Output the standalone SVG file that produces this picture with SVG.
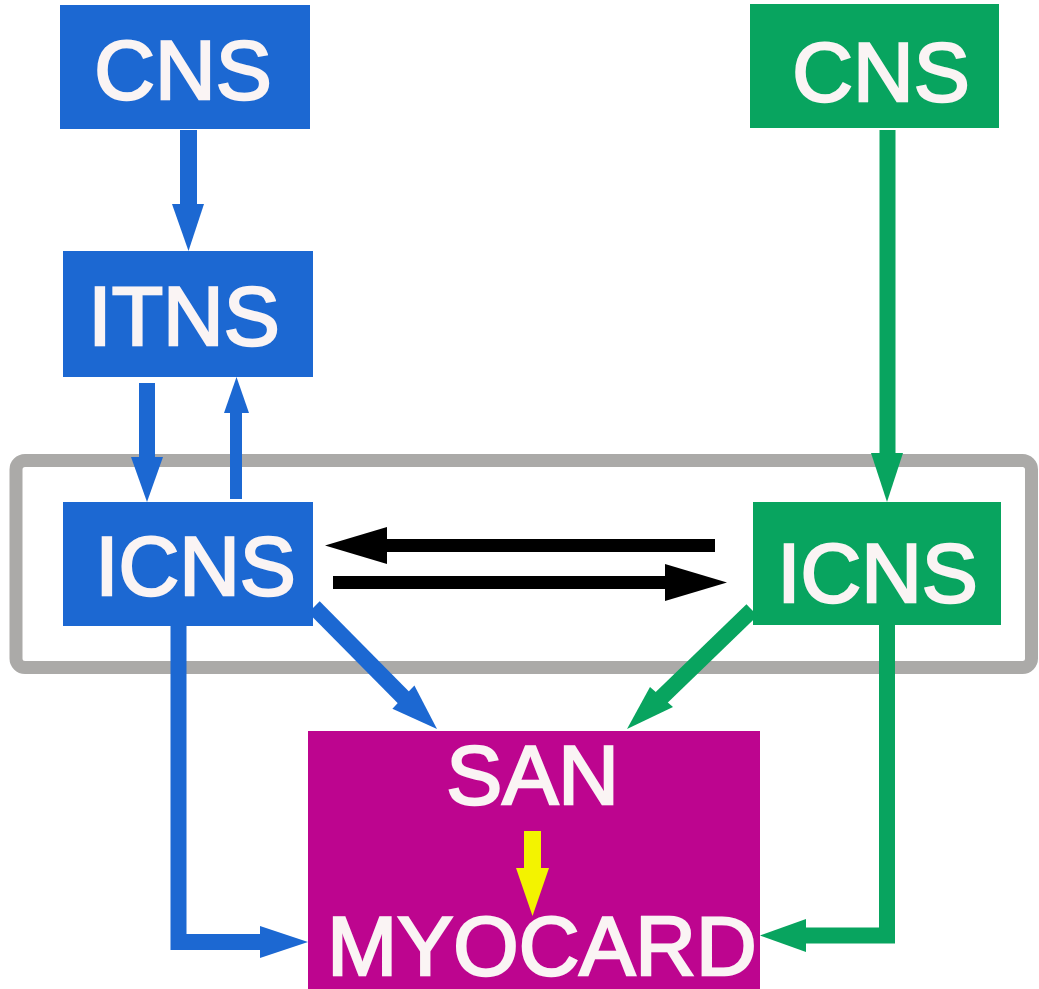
<svg xmlns="http://www.w3.org/2000/svg" width="1039" height="989" viewBox="0 0 1039 989">
  <style>
    .blue { fill: #1c68d2; }
    .green { fill: #08a45f; }
    .label { font-family: "Liberation Sans", Arial, sans-serif; font-size: 84px; fill: #faf4f4; stroke: #faf4f4; stroke-width: 2.5px; text-anchor: middle; }
    .sb { stroke: #1c68d2; fill: none; }
    .sg { stroke: #08a45f; fill: none; }
    .sk { stroke: #000000; fill: none; }
  </style>
  <rect width="1039" height="989" fill="#ffffff"/>

  <!-- intracardiac frame -->
  <rect id="frame" x="16" y="460.5" width="1015.5" height="207" rx="9" ry="9" fill="none" stroke="#abaaa8" stroke-width="13"/>

  <!-- nodes -->
  <g id="cns-left">
    <rect class="blue" x="60" y="5" width="250" height="124"/>
    <text class="label" x="183" y="99">CNS</text>
  </g>
  <g id="itns">
    <rect class="blue" x="63" y="251" width="250" height="126"/>
    <text class="label" x="184" y="345">ITNS</text>
  </g>
  <g id="icns-left">
    <rect class="blue" x="63" y="502" width="250" height="124"/>
    <text class="label" x="195.5" y="595">ICNS</text>
  </g>
  <g id="cns-right">
    <rect class="green" x="750" y="4" width="249" height="124"/>
    <text class="label" x="881" y="101">CNS</text>
  </g>
  <g id="icns-right">
    <rect class="green" x="753" y="502" width="248" height="123"/>
    <text class="label" x="877.5" y="602">ICNS</text>
  </g>
  <g id="san-myocard">
    <rect x="308" y="731" width="452" height="260" fill="#bd058f"/>
    <text class="label" x="532.5" y="804">SAN</text>
    <text class="label" x="542" y="975">MYOCARD</text>
  </g>

  <!-- connectors -->
  <g id="connectors">
    <!-- CNS -> ITNS -->
    <line class="sb" x1="188.5" y1="130" x2="188.5" y2="205" stroke-width="17"/>
    <polygon class="blue" points="172,204 204,204 188.5,251"/>
    <!-- ITNS -> ICNS -->
    <line class="sb" x1="147" y1="383" x2="147" y2="458" stroke-width="16"/>
    <polygon class="blue" points="131,457 163,457 147,502"/>
    <!-- ICNS -> ITNS -->
    <line class="sb" x1="236" y1="499" x2="236" y2="412" stroke-width="12"/>
    <polygon class="blue" points="224,413 249,413 236.5,377"/>
    <!-- green CNS -> ICNS -->
    <line class="sg" x1="887.5" y1="130" x2="887.5" y2="454" stroke-width="16"/>
    <polygon class="green" points="871,453 903,453 887,502"/>
    <!-- ICNS <-> ICNS -->
    <line class="sk" x1="715" y1="545.5" x2="386" y2="545.5" stroke-width="13"/>
    <polygon fill="#000" points="387,527 387,564 325,545.5"/>
    <line class="sk" x1="333" y1="582.5" x2="666" y2="582.5" stroke-width="13"/>
    <polygon fill="#000" points="665,564 665,601 727,582.5"/>
    <!-- blue ICNS -> SAN -->
    <line class="sb" x1="314" y1="607" x2="404" y2="698" stroke-width="16"/>
    <polygon class="blue" points="414.4,685.5 392.4,708.7 437,729"/>
    <!-- green ICNS -> SAN -->
    <line class="sg" x1="752" y1="610" x2="661" y2="698" stroke-width="16"/>
    <polygon class="green" points="650,687 673,707 627,729"/>
    <!-- blue ICNS -> MYOCARD -->
    <polyline class="sb" points="178.5,626 178.5,942 261,942" stroke-width="16" stroke-linejoin="miter"/>
    <polygon class="blue" points="260,926 260,958 308,942"/>
    <!-- green ICNS -> MYOCARD -->
    <polyline class="sg" points="887,625 887,935.5 805,935.5" stroke-width="16" stroke-linejoin="miter"/>
    <polygon class="green" points="806,919 806,952 760,935.5"/>
    <!-- SAN -> MYOCARD -->
    <line x1="532.5" y1="831" x2="532.5" y2="869" stroke="#f3f300" stroke-width="17"/>
    <polygon fill="#f3f300" points="516,868 549,868 532.5,916"/>
  </g>
</svg>
